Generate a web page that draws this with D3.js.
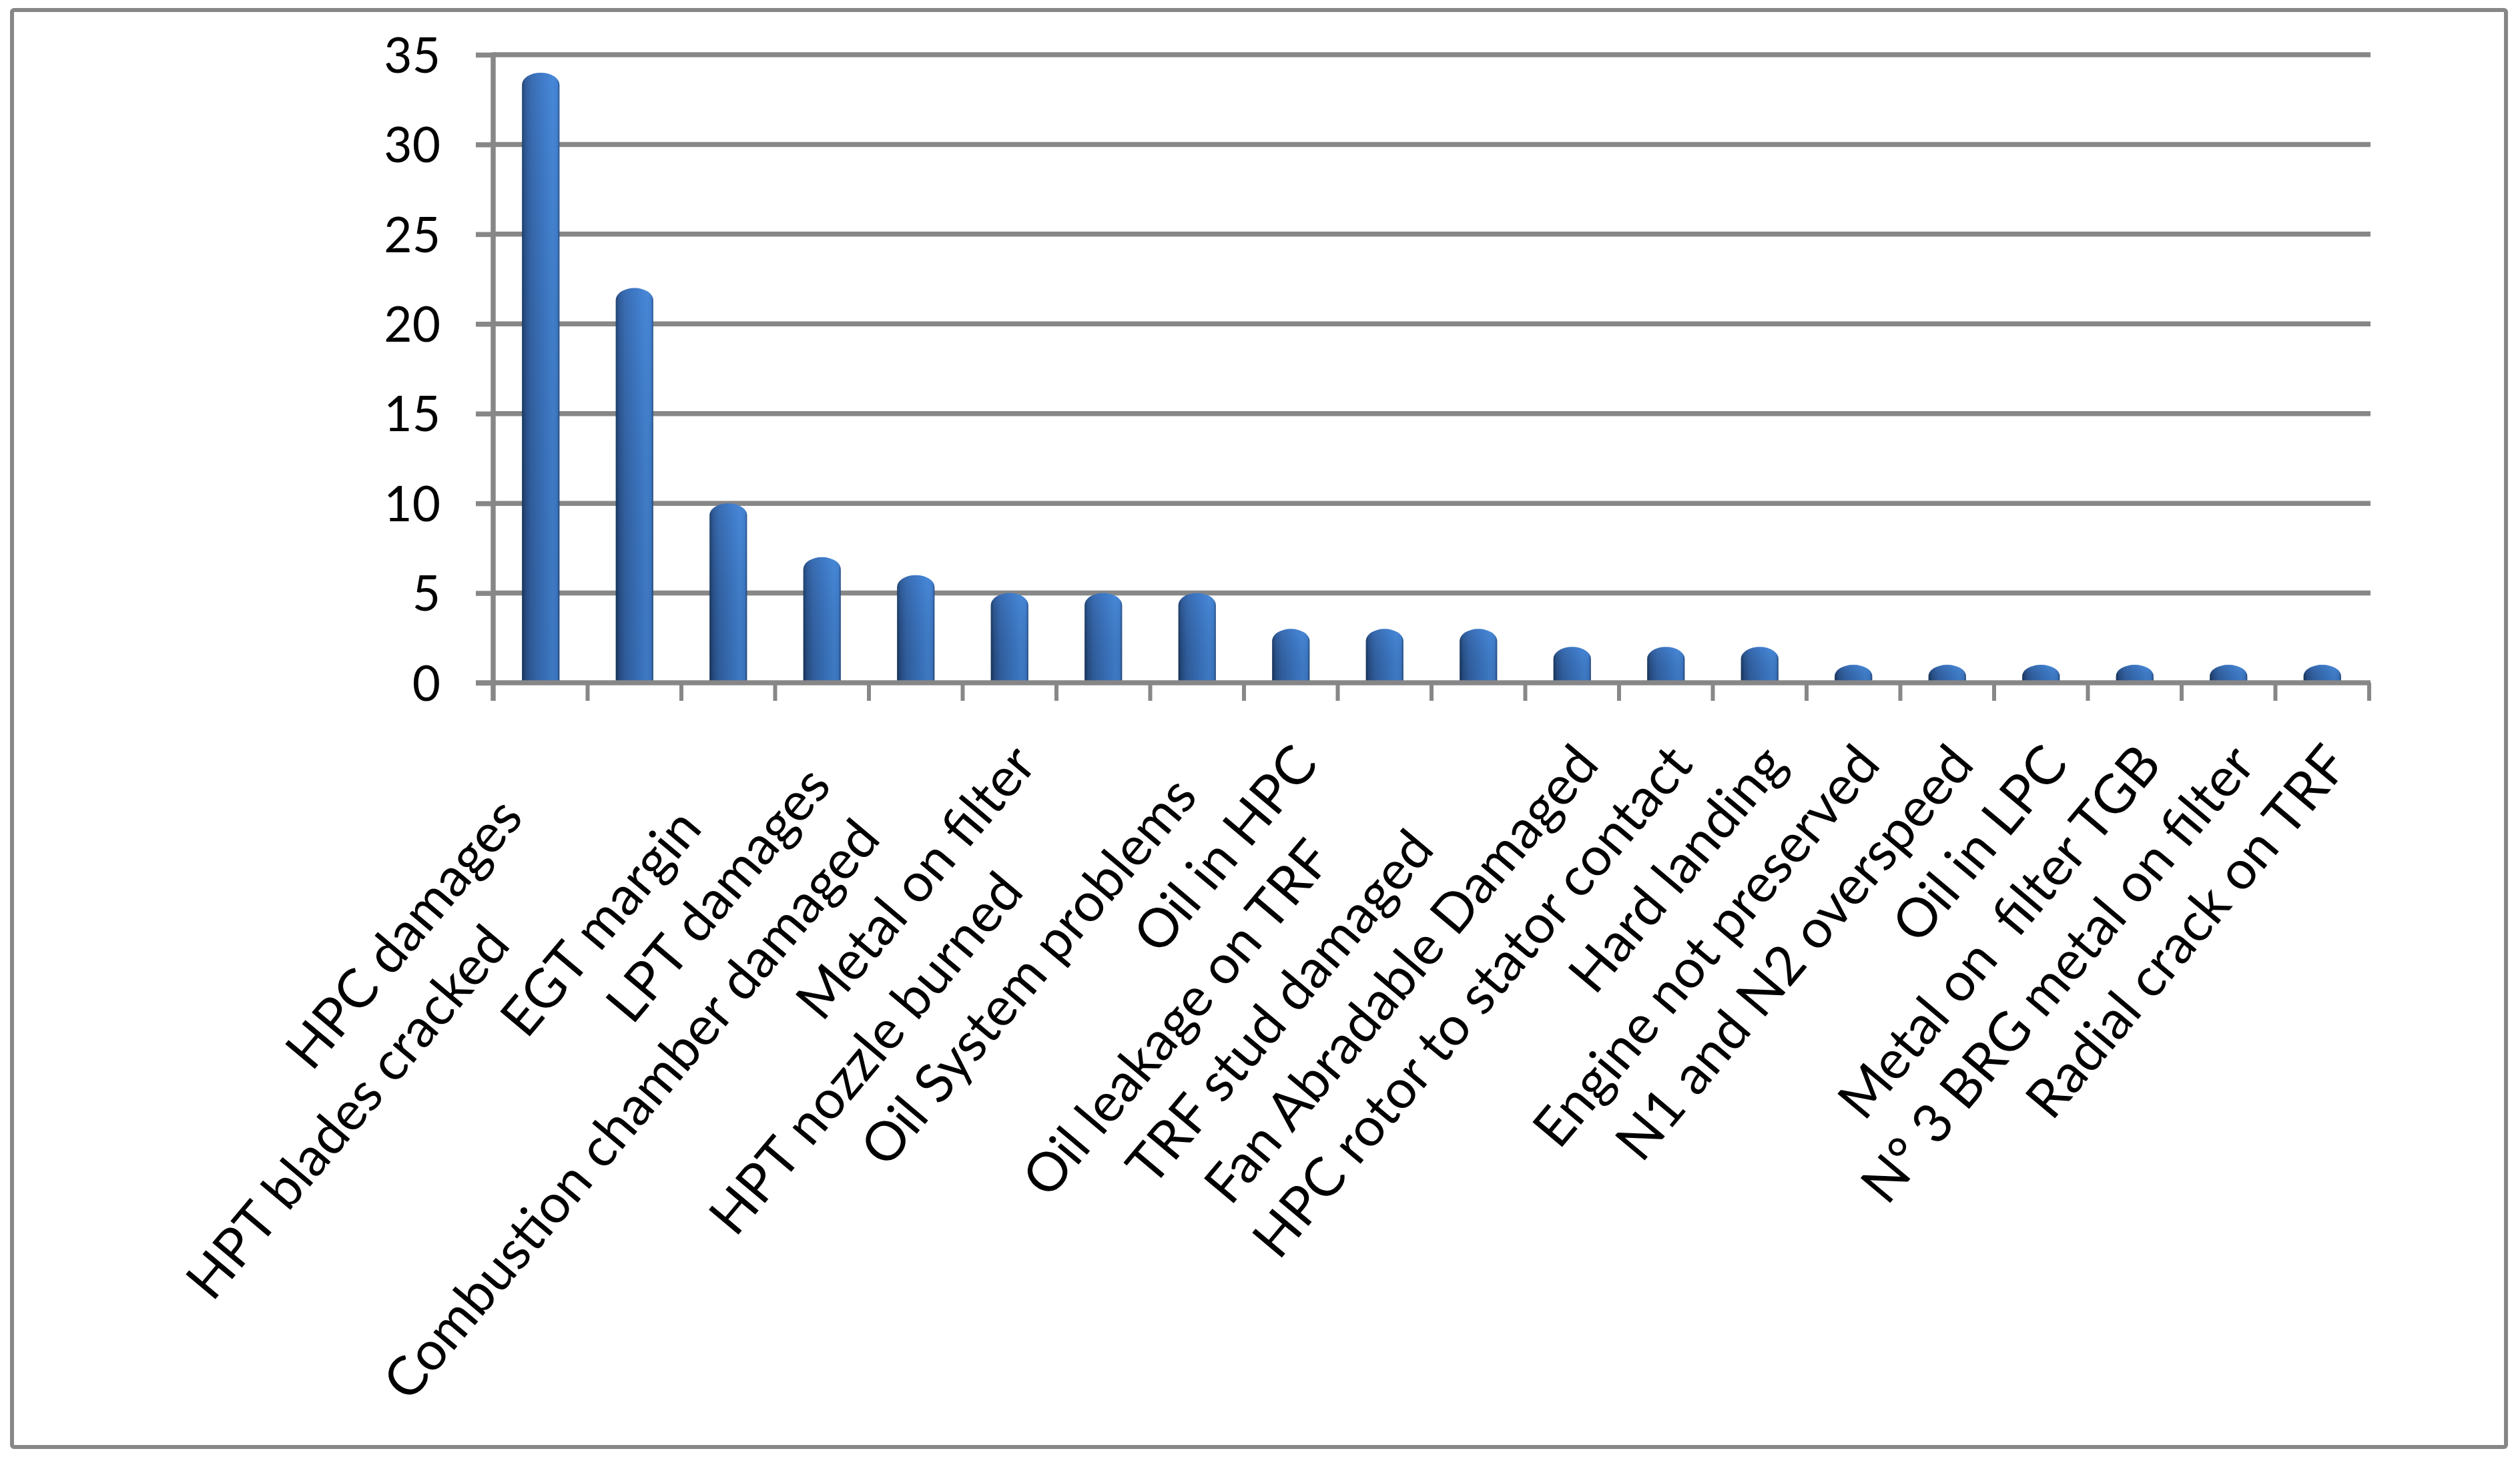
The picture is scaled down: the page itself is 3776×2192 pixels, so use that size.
<!DOCTYPE html>
<html>
<head>
<meta charset="utf-8">
<script src="https://cdn.jsdelivr.net/npm/d3@7"></script>
<style>
  html, body { margin: 0; padding: 0; background: #ffffff; }
  svg { display: block; }
  text { font-family: Lato, "Open Sans", sans-serif; fill: #000; }
</style>
</head>
<body>
<div id="chart"></div>
<script>
// ---- data ----
// trailing spaces are kept as they appear to be in the source labels
const categories = [
  "HPC damages     ",
  "HPT blades cracked                 ",
  "EGT margin      ",
  "LPT damages  ",
  "Combustion chamber damaged       ",
  "Metal on filter",
  "HPT nozzle burned            ",
  "Oil System problems   ",
  "Oil in HPC",
  "Oil leakage on TRF         ",
  "TRF stud damaged        ",
  "Fan Abradable Damaged",
  "HPC rotor to stator contact",
  "Hard landing",
  "Engine not preserved",
  "N1 and N2 overspeed",
  "Oil in LPC",
  "Metal on  filter TGB",
  "N° 3 BRG metal on filter",
  "Radial crack on TRF"
];
const values = [34, 22, 10, 7, 6, 5, 5, 5, 3, 3, 3, 2, 2, 2, 1, 1, 1, 1, 1, 1];
const yTicks = [0, 5, 10, 15, 20, 25, 30, 35];

// ---- layout ----
const W = 3776, H = 2192;
const plotLeft = 740, plotRight = 3550, plotTop = 82, plotBottom = 1023;
const gridColor = "#878787";

const svg = d3.select("#chart").append("svg")
  .attr("width", W).attr("height", H)
  .attr("viewBox", `0 0 ${W} ${H}`);

svg.append("rect").attr("x", 0).attr("y", 0).attr("width", W).attr("height", H).attr("fill", "#fff");

// outer chart border
svg.append("rect")
  .attr("x", 18).attr("y", 15).attr("width", 3737).attr("height", 2153)
  .attr("rx", 3)
  .attr("fill", "none").attr("stroke", gridColor).attr("stroke-width", 6);

const x = d3.scaleBand().domain(categories).range([plotLeft, plotRight])
  .paddingInner(0.6).paddingOuter(0.3);
const y = d3.scaleLinear().domain([0, 35]).range([plotBottom, plotTop]);

// gradients
const defs = svg.append("defs");
const hg = defs.append("linearGradient").attr("id", "barH")
  .attr("x1", "0").attr("x2", "1").attr("y1", "0").attr("y2", "0");
[["0%", "#173459"], ["9%", "#284f88"], ["25%", "#3363a6"], ["55%", "#3a74c0"],
 ["82%", "#4383d2"], ["94%", "#3f7cca"], ["100%", "#21467a"]]
  .forEach(([o, c]) => hg.append("stop").attr("offset", o).attr("stop-color", c));
const vg = defs.append("linearGradient").attr("id", "barV")
  .attr("x1", "0").attr("x2", "0").attr("y1", "0").attr("y2", "1");
vg.append("stop").attr("offset", "0%").attr("stop-color", "#5a9cf0").attr("stop-opacity", 0.18);
vg.append("stop").attr("offset", "100%").attr("stop-color", "#000000").attr("stop-opacity", 0.08);

// y axis with gridlines
const yAxis = d3.axisLeft(y).tickValues(yTicks).tickSize(26).tickSizeOuter(0).tickPadding(53);
const gy = svg.append("g").attr("transform", `translate(${plotLeft - 1},0)`).call(yAxis);
gy.select(".domain").remove();
gy.selectAll(".tick line").attr("stroke", gridColor).attr("stroke-width", 7.5);
gy.selectAll(".tick text")
  .attr("font-size", 73).attr("font-family", "Lato, sans-serif").attr("fill", "#000")
  .attr("dy", "0.36em");

svg.append("g").selectAll("line").data(yTicks.filter(t => t > 0)).join("line")
  .attr("x1", plotLeft - 1).attr("x2", plotRight + 2)
  .attr("y1", d => y(d)).attr("y2", d => y(d))
  .attr("stroke", gridColor).attr("stroke-width", 7.5);

// bars (cylinders with rounded tops)
const bw = x.bandwidth();
const ry = 18;
function barPath(d, i) {
  const x0 = x(categories[i]), x1 = x0 + bw;
  const yt = y(d), yb = plotBottom - 3;
  const r = Math.min(ry, (yb - yt) * 0.7);
  return `M${x0},${yb} L${x0},${yt + r} A${bw / 2},${r} 0 0 1 ${x1},${yt + r} L${x1},${yb} Z`;
}
const gb = svg.append("g");
gb.selectAll("path.bar").data(values).join("path").attr("class", "bar")
  .attr("d", barPath).attr("fill", "url(#barH)");
gb.selectAll("path.shade").data(values).join("path").attr("class", "shade")
  .attr("d", barPath).attr("fill", "url(#barV)");

// x axis line + category boundary ticks
svg.append("line")
  .attr("x1", plotLeft - 27).attr("x2", plotRight + 2)
  .attr("y1", y(0)).attr("y2", y(0))
  .attr("stroke", gridColor).attr("stroke-width", 7.5);
svg.append("line")
  .attr("x1", plotLeft - 1).attr("x2", plotLeft - 1)
  .attr("y1", y(35) - 3.5).attr("y2", y(0) + 27)
  .attr("stroke", gridColor).attr("stroke-width", 7.5);
const step = x.step();
const bounds = categories.map((c, i) => x(c) - (step - bw) / 2).concat([x(categories[categories.length - 1]) + bw + (step - bw) / 2]);
svg.append("g").selectAll("line").data(bounds.slice(1)).join("line")
  .attr("x1", d => d).attr("x2", d => d)
  .attr("y1", y(0)).attr("y2", y(0) + 27)
  .attr("stroke", gridColor).attr("stroke-width", 6);

// rotated category labels
const angle = -50;
svg.append("g").selectAll("text").data(categories).join("text")
  .attr("transform", d => `translate(${x(d) + bw / 2 + 43},${1147}) rotate(${angle})`)
  .attr("text-anchor", "end")
  .attr("xml:space", "preserve")
  .style("white-space", "pre")
  .attr("font-size", 81)
  .text(d => d);
</script>
</body>
</html>
